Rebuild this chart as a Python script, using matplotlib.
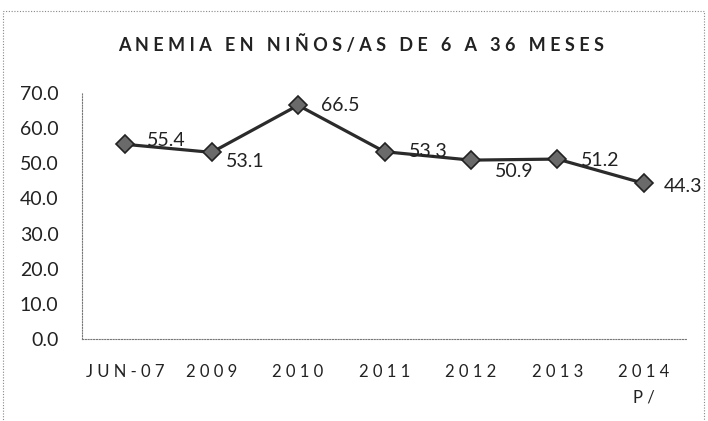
import matplotlib
matplotlib.use("Agg")
import matplotlib.pyplot as plt
from matplotlib.patches import Rectangle

categories = ["JUN-07", "2009", "2010", "2011", "2012", "2013", "2014\nP/"]
values = [55.4, 53.1, 66.5, 53.3, 50.9, 51.2, 44.3]
yticks = [0, 10, 20, 30, 40, 50, 60, 70]
title = "ANEMIA EN NIÑOS/AS DE 6 A 36 MESES"

# label offsets (pixels) for each data label - styling only
label_offsets = [(22, 4), (14, -9), (23, 0), (24, 0), (24, -11), (24, -1), (20, -3)]

plt.rcParams['font.family'] = ['Lato', 'DejaVu Sans']

fig = plt.figure(figsize=(7.08, 4.21), dpi=100)
ax = fig.add_axes([82/708, 1-339/421, (687-82)/708, (339-93)/421])

x = list(range(len(categories)))
ax.plot(x, values, color="#2b2b2b", lw=2.3, marker="D", markersize=9,
        markerfacecolor="#6a6a6a", markeredgecolor="#222222", markeredgewidth=1.2,
        clip_on=False, zorder=3)

for xi, v, off in zip(x, values, label_offsets):
    ax.annotate(f"{v:.1f}", (xi, v), xytext=off, textcoords="offset pixels",
                ha="left", va="center", fontsize=14, color="#222222")


def spaced(s):
    return "\n".join(" ".join(line) for line in s.split("\n"))


ax.set_xlim(-0.5, len(categories) - 0.5)
ax.set_ylim(0, 70)
ax.set_yticks(yticks)
ax.set_yticklabels([f"{t:.1f}" for t in yticks], fontsize=14, color="#222222")
ax.set_xticks(x)
ax.set_xticklabels([spaced(c) for c in categories],
                   fontsize=12, color="#222222", linespacing=1.7)
ax.tick_params(axis="y", length=0, pad=17)
ax.tick_params(axis="x", length=0, pad=18)

for s in ["top", "right"]:
    ax.spines[s].set_visible(False)
for s in ["left", "bottom"]:
    ax.spines[s].set_linestyle((0, (1, 1.5)))
    ax.spines[s].set_color("#777777")
    ax.spines[s].set_linewidth(0.8)

fig.text(361/708, 1-45/421, " ".join(title), ha="center", va="center",
         fontsize=13, fontweight="bold", color="#222222")

# dotted outer border
border = Rectangle((3/708, -0.05), (704-3)/708, (1-11/421) + 0.05, transform=fig.transFigure,
                   fill=False, linestyle=(0, (1, 1.5)), edgecolor="#888888", linewidth=0.8)
fig.add_artist(border)

fig.savefig("out.png", dpi=100)
